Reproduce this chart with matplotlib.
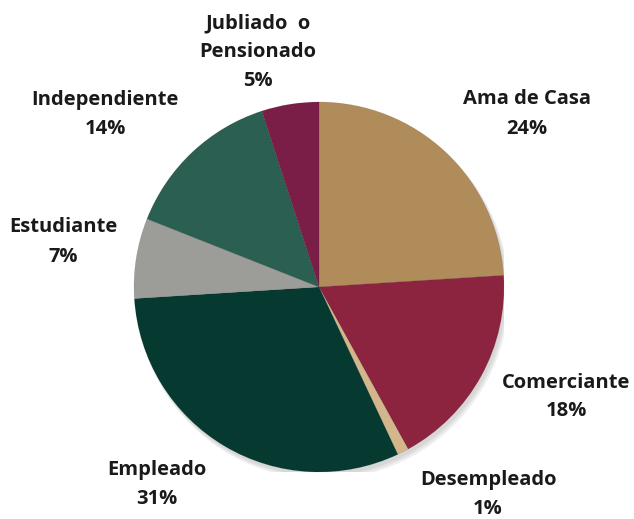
import matplotlib.pyplot as plt
from matplotlib.patches import Circle

# Values
categories = ["Ama de Casa", "Comerciante", "Desempleado", "Empleado",
              "Estudiante", "Independiente", "Jubliado  o\nPensionado"]
percent = [24, 18, 1, 31, 7, 14, 5]
colors = ["#b08c5a", "#8c2440", "#d4b68c", "#063a31",
          "#9c9c98", "#2b5f51", "#7a1e48"]

# label centres in pixels (x, y from top) of the 634x519 image
label_pos = [(527, 114), (566, 397), (488, 494), (157, 485),
             (63, 242), (105, 114), (258, 52)]

W, H = 634, 519
CX, CY, R = 319, 287, 185


def main():
    plt.rcParams["font.family"] = ["Open Sans", "DejaVu Sans"]
    fig = plt.figure(figsize=(W / 100, H / 100), dpi=100)
    ax = fig.add_axes([(CX - R) / W, (H - CY - R) / H, 2 * R / W, 2 * R / H])

    # soft shadow under the pie
    for i, a in enumerate([0.05, 0.05, 0.06]):
        ax.add_patch(Circle((0.012 + 0.004 * i, -0.02 - 0.006 * i), 1.0 + 0.004 * i,
                            color="black", alpha=a, zorder=0, lw=0))

    ax.pie(percent, colors=colors, startangle=90, counterclock=False,
           wedgeprops={"linewidth": 0.4, "edgecolor": "#00000022"})
    ax.set_xlim(-1.0, 1.0)
    ax.set_ylim(-1.0, 1.0)
    ax.set_aspect("equal")
    ax.axis("off")

    for name, p, (x, y) in zip(categories, percent, label_pos):
        fig.text(x / W, 1 - y / H, f"{name}\n{p}%", ha="center", va="center",
                 fontsize=14.5, fontweight="bold", color="#1a1a1a",
                 linespacing=1.6)

    fig.savefig("out.png", dpi=100)


if __name__ == "__main__":
    main()
